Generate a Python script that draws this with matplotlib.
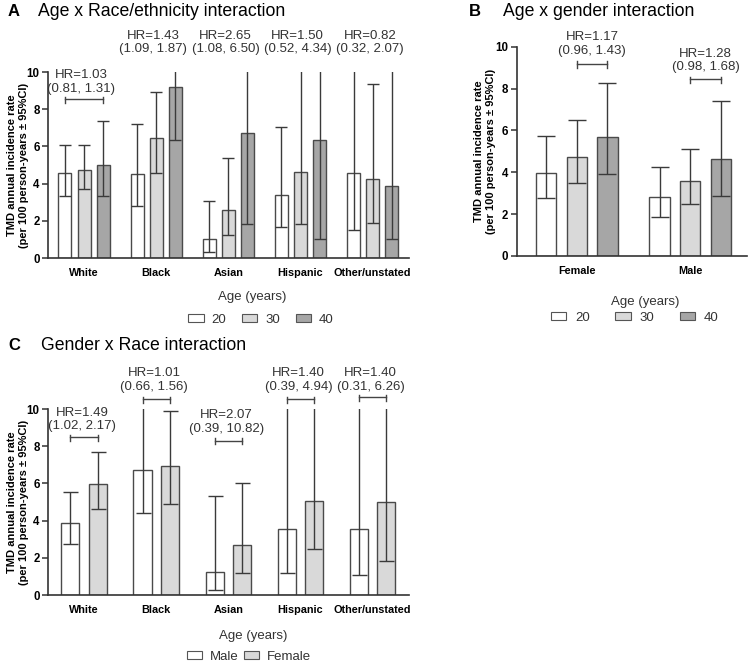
import numpy as np
import matplotlib
matplotlib.use("Agg")
import matplotlib.pyplot as plt
from matplotlib.patches import Patch

plt.rcParams['font.family'] = ['Liberation Sans', 'DejaVu Sans']

# ---- Panel A: age x race/ethnicity ----
races = ["White", "Black", "Asian", "Hispanic", "Other/unstated"]
ages = ["20", "30", "40"]
a_rate = [[4.55, 4.5, 1.05, 3.4, 4.6],
          [4.75, 6.45, 2.6, 4.65, 4.25],
          [5.0, 9.2, 6.7, 6.35, 3.9]]
a_lo = [[3.35, 2.8, 0.35, 1.65, 1.5],
        [3.7, 4.6, 1.25, 1.85, 1.9],
        [3.35, 6.35, 1.85, 1.0, 1.0]]
a_hi = [[6.1, 7.2, 3.05, 7.05, 12.0],
        [6.1, 8.95, 5.4, 12.0, 9.35],
        [7.35, 12.0, 14.0, 12.0, 12.0]]
a_hr = ["HR=1.03\n(0.81, 1.31)", "HR=1.43\n(1.09, 1.87)", "HR=2.65\n(1.08, 6.50)",
        "HR=1.50\n(0.52, 4.34)", "HR=0.82\n(0.32, 2.07)"]
a_hr_y = [9.46, 11.59, 11.59, 11.59, 11.59]
a_bracket_y = [8.55, None, None, None, None]

# ---- Panel B: age x gender ----
genders = ["Female", "Male"]
b_rate = [[3.97, 2.8], [4.75, 3.6], [5.68, 4.62]]
b_lo = [[2.75, 1.85], [3.48, 2.5], [3.9, 2.88]]
b_hi = [[5.72, 4.25], [6.5, 5.1], [8.28, 7.42]]
b_hr = ["HR=1.17\n(0.96, 1.43)", "HR=1.28\n(0.98, 1.68)"]
b_hr_y = [10.14, 9.35]
b_bracket_y = [9.19, 8.45]

# ---- Panel C: gender x race ----
sexes = ["Male", "Female"]
c_rate = [[3.9, 6.75, 1.25, 3.55, 3.55],
          [5.95, 6.95, 2.7, 5.05, 5.0]]
c_lo = [[2.75, 4.4, 0.28, 1.2, 1.1],
        [4.6, 4.9, 1.2, 2.5, 1.85]]
c_hi = [[5.55, 12.0, 5.3, 12.0, 12.0],
        [7.7, 9.9, 6.0, 12.0, 12.0]]
c_hr = ["HR=1.49\n(1.02, 2.17)", "HR=1.01\n(0.66, 1.56)", "HR=2.07\n(0.39, 10.82)",
        "HR=1.40\n(0.39, 4.94)", "HR=1.40\n(0.31, 6.26)"]
c_hr_y = [9.44, 11.56, 9.3, 11.56, 11.56]
c_bracket_y = [8.51, 10.54, 8.3, 10.54, 10.63]

fills3 = ["white", "#d9d9d9", "#a6a6a6"]
fills2 = ["white", "#d9d9d9"]
edge = "#4a4a4a"
ylab = "TMD annual incidence rate\n(per 100 person-years \u00b1 95%CI)"


def style_axis(ax, cats, xlim, label_x):
    ax.set_ylim(0, 10)
    ax.set_xlim(*xlim)
    ax.set_yticks([0, 2, 4, 6, 8, 10])
    ax.set_xticks(range(len(cats)))
    ax.set_xticklabels(cats, fontweight="bold", fontsize=7.8)
    for lab in ax.get_yticklabels():
        lab.set_fontweight("bold")
    ax.tick_params(axis="y", labelsize=8.3, length=4, width=1.1, color="#333333", pad=2)
    ax.tick_params(axis="x", length=0, pad=7)
    ax.spines[["top", "right"]].set_visible(False)
    for s in ["left", "bottom"]:
        ax.spines[s].set_linewidth(1.2)
        ax.spines[s].set_color("#333333")
    ax.set_ylabel(ylab, fontweight="bold", fontsize=8.0, linespacing=1.25)
    ax.yaxis.set_label_coords(label_x, 0.5)


def bracket(ax, x1, x2, y):
    ax.plot([x1, x2], [y, y], color="#444444", lw=1, clip_on=False)
    for x in (x1, x2):
        ax.plot([x, x], [y - 0.2, y + 0.12], color="#444444", lw=1, clip_on=False)


def grouped(ax, rate, lo, hi, fills, width, offs, capsize):
    n = len(rate[0])
    x = np.arange(n)
    for i, (r, l, h) in enumerate(zip(rate, lo, hi)):
        r = np.array(r)
        err = [r - np.array(l), np.array(h) - r]
        ax.bar(x + offs[i], r, width, color=fills[i], edgecolor=edge, linewidth=1, zorder=2)
        ax.errorbar(x + offs[i], r, yerr=err, fmt="none", ecolor="#3a3a3a",
                    elinewidth=1, capsize=capsize, capthick=1, zorder=3)


fig = plt.figure(figsize=(7.5, 6.64), dpi=100)

# Panel A
axA = fig.add_axes([0.064, 0.6114, 0.481, 0.280])
offA = [-0.265, 0.0, 0.265]
grouped(axA, a_rate, a_lo, a_hi, fills3, 0.18, offA, 4.3)
style_axis(axA, races, (-0.5, 4.5), -0.052)
for g in range(len(races)):
    axA.text(g - 0.04, a_hr_y[g], a_hr[g], ha="center", va="center", fontsize=9.5,
             color="#333333", linespacing=1.15)
    if a_bracket_y[g] is not None:
        bracket(axA, g + offA[0], g + offA[2], a_bracket_y[g])

# Panel B
axB = fig.add_axes([0.689, 0.6145, 0.307, 0.315])
offB = [-0.27, 0.0, 0.27]
grouped(axB, b_rate, b_lo, b_hi, fills3, 0.18, offB, 6.5)
style_axis(axB, genders, (-0.53, 1.5), -0.09)
for g in range(len(genders)):
    axB.text(g + 0.135, b_hr_y[g], b_hr[g], ha="center", va="center", fontsize=9.5,
             color="#333333", linespacing=1.15)
    bracket(axB, g + offB[1], g + offB[2], b_bracket_y[g])

# Panel C
axC = fig.add_axes([0.064, 0.1039, 0.481, 0.280])
offC = [-0.19, 0.19]
grouped(axC, c_rate, c_lo, c_hi, fills2, 0.25, offC, 5.4)
style_axis(axC, races, (-0.5, 4.5), -0.052)
for g in range(len(races)):
    axC.text(g - 0.03, c_hr_y[g], c_hr[g], ha="center", va="center", fontsize=9.5,
             color="#333333", linespacing=1.15)
    bracket(axC, g + offC[0], g + offC[1], c_bracket_y[g])

# titles
fig.text(8 / 750, 1 - 12 / 664, "A", fontsize=12, fontweight="bold", va="center")
fig.text(38 / 750, 1 - 12 / 664, "Age x Race/ethnicity interaction", fontsize=12.7, va="center")
fig.text(469 / 750, 1 - 12 / 664, "B", fontsize=12, fontweight="bold", va="center")
fig.text(503 / 750, 1 - 12 / 664, "Age x gender interaction", fontsize=12.7, va="center")
fig.text(8 / 750, 1 - 346 / 664, "C", fontsize=12, fontweight="bold", va="center")
fig.text(41 / 750, 1 - 346 / 664, "Gender x Race interaction", fontsize=12.7, va="center")


# legends
def legend(title_x, title_y, row_x, row_y, labels, fills, colspace, textpad):
    fig.text(title_x / 750, 1 - title_y / 664, "Age (years)", ha="center", va="center",
             fontsize=9.5, color="#333333")
    handles = [Patch(facecolor=f, edgecolor="#555555", linewidth=0.8) for f in fills]
    fig.legend(handles, labels, loc="center", bbox_to_anchor=(row_x / 750, 1 - row_y / 664),
               ncol=len(labels), frameon=False, fontsize=9.5, handlelength=1.15,
               handleheight=0.55, columnspacing=colspace, handletextpad=textpad,
               labelcolor="#333333", borderpad=0, borderaxespad=0)

legend(252, 297, 261, 320, ages, fills3, 1.2, 0.6)
legend(645, 302, 635, 318, ages, fills3, 1.9, 0.7)
legend(253, 636, 249, 657, sexes, fills2, 0.45, 0.55)

fig.savefig("out.png", dpi=100)
